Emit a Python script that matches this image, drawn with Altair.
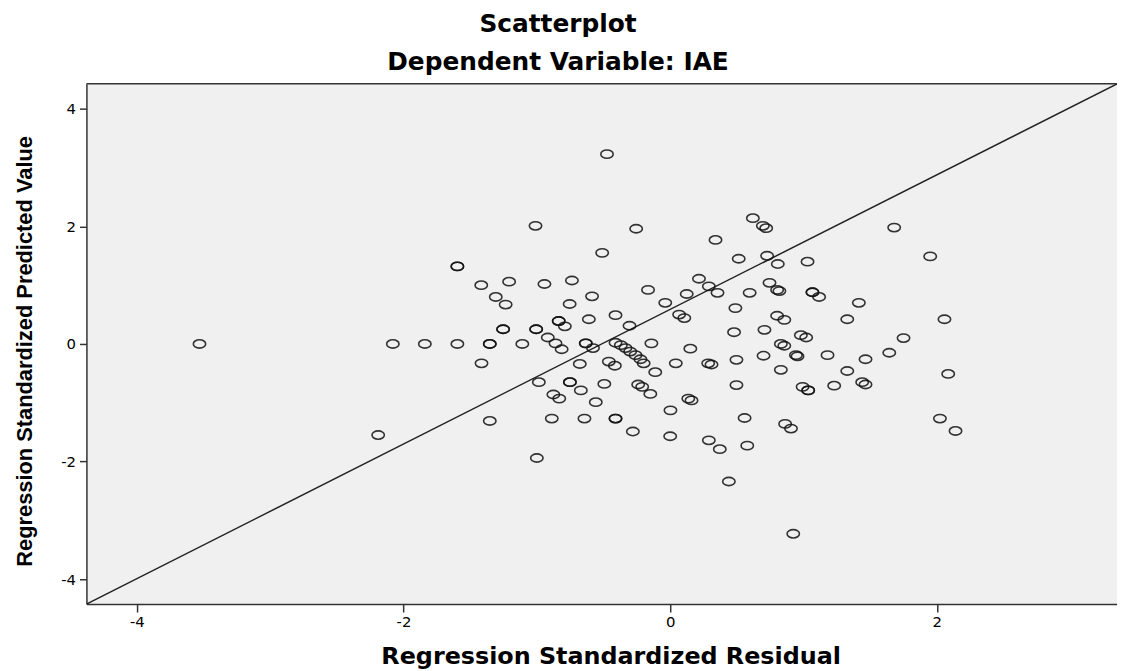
import altair as alt
import pandas as pd

# Regression Standardized Residual (x) and Regression Standardized Predicted Value (y)
resid = [
    -3.53, -2.08, -2.19,
    -0.474, -1.01, -0.255, 0.34, -0.51, 0.514, -1.596, -1.596,
    -1.417, -1.208, -0.943, -0.737, -1.308, -1.234, -0.754, -0.586, -0.166,
    0.216, 0.29, 0.355, 0.124, -0.037, 0.067, 0.106, 0.489, 0.596,
    -0.41, -0.61, -0.305, 0.479, -1.253, -1.253, -1.005, -1.005, -0.836, -0.836,
    -0.79, -0.918, -0.86, -0.814,
    -1.84, -1.596, -1.353, -1.353, -1.109, -0.633, -0.633, -0.579,
    -0.41, -0.37, -0.335, -0.30, -0.26, -0.223, -0.199,
    -0.141, -0.112, 0.151, 0.042, 0.285, 0.31, 0.497, 0.497, 0.558, 0.578,
    -1.415, -0.678, -0.46, -0.415, -0.985, -0.752, -0.752, -0.67, -0.494,
    -0.876, -0.832, -0.558, -0.24, -0.21, -0.149, 0.136, 0.16, 0.002,
    -1.353, -0.888, -0.643, -0.41, -0.41, -0.28, 0.0, 0.29, 0.372, 0.44, -1.0,
    0.62, 0.695, 0.72, 1.68, 1.95, 0.727, 0.807, 1.03, 0.745, 0.802, 0.819,
    1.067, 1.067, 1.117, 1.415, 0.802, 0.856, 1.328, 2.057, 0.707, 0.98, 1.02,
    1.75, 0.83, 0.856, 0.70, 0.943, 0.955, 1.18, 1.465, 1.643, 0.83, 1.328,
    1.44, 1.465, 2.085, 0.993, 1.035, 1.035, 1.23, 0.862, 0.906, 2.023, 2.14,
    0.923,
]
pred = [
    0.0, 0.0, -1.55,
    3.23, 2.01, 1.96, 1.77, 1.55, 1.45, 1.32, 1.32,
    1.00, 1.06, 1.02, 1.08, 0.80, 0.67, 0.68, 0.81, 0.92,
    1.11, 0.98, 0.87, 0.85, 0.70, 0.50, 0.44, 0.61, 0.87,
    0.49, 0.42, 0.31, 0.20, 0.25, 0.25, 0.25, 0.25, 0.39, 0.39,
    0.30, 0.11, 0.01, -0.09,
    0.0, 0.0, 0.0, 0.0, 0.0, 0.01, 0.01, -0.07,
    0.02, -0.02, -0.07, -0.13, -0.19, -0.26, -0.33,
    0.01, -0.48, -0.08, -0.33, -0.33, -0.35, -0.27, -0.70, -1.26, -1.73,
    -0.33, -0.34, -0.30, -0.37, -0.65, -0.65, -0.65, -0.79, -0.68,
    -0.86, -0.93, -0.99, -0.69, -0.73, -0.85, -0.93, -0.96, -1.13,
    -1.31, -1.27, -1.27, -1.27, -1.27, -1.49, -1.57, -1.64, -1.79, -2.34, -1.94,
    2.14, 2.01, 1.97, 1.98, 1.49, 1.50, 1.36, 1.40, 1.04, 0.92, 0.90,
    0.88, 0.88, 0.80, 0.70, 0.48, 0.41, 0.42, 0.42, 0.24, 0.15, 0.11,
    0.10, 0.0, -0.03, -0.20, -0.19, -0.21, -0.19, -0.26, -0.15, -0.44, -0.46,
    -0.65, -0.69, -0.51, -0.73, -0.79, -0.79, -0.71, -1.36, -1.44, -1.27, -1.48,
    -3.23,
]

# reference line (corner to corner of the plotting frame)
ref_resid = [-4.378, 3.351]
ref_pred = [-4.426, 4.426]

x_domain = [-4.378, 3.351]
y_domain = [-4.426, 4.426]
x_ticks = [-4, -2, 0, 2]
y_ticks = [-4, -2, 0, 2, 4]

W, H = 1038, 524
BASE = "DejaVu Sans"
ARIAL = "Liberation Sans"
HYPHEN_LABEL = "datum.value < 0 ? '-' + abs(datum.value) : '' + datum.value"

pts = pd.DataFrame({"resid": resid, "pred": pred})
ref = pd.DataFrame({"resid": ref_resid, "pred": ref_pred})

xs = alt.Scale(domain=x_domain, nice=False, zero=False)
ys = alt.Scale(domain=y_domain, nice=False, zero=False)

x_axis = alt.Axis(
    title="Regression Standardized Residual", values=x_ticks, grid=False,
    labelExpr=HYPHEN_LABEL,
    labelFont=BASE, labelFontSize=15, labelColor="black", labelPadding=3,
    tickSize=8, tickColor="#333333", tickWidth=1.5,
    domainColor="#333333", domainWidth=1.5,
    titleFont=BASE, titleFontSize=24, titleFontWeight="bold", titleColor="black",
    titleX=528, titleY=60, titleAlign="center", titleBaseline="alphabetic",
)
y_axis = alt.Axis(
    title="Regression Standardized Predicted Value", values=y_ticks, grid=False,
    labelExpr=HYPHEN_LABEL,
    labelFont=BASE, labelFontSize=15, labelColor="black", labelPadding=4,
    tickSize=7, tickColor="#333333", tickWidth=1.5,
    domainColor="#333333", domainWidth=1.5,
    titleFont=ARIAL, titleFontSize=22, titleFontWeight="bold", titleColor="black",
    titleAngle=270, titleX=-55, titleY=269, titleAlign="center",
    titleBaseline="alphabetic",
)

ellipse = "M-1,0A1,0.67,0,1,1,1,0A1,0.67,0,1,1,-1,0Z"

points = alt.Chart(pts).mark_point(
    shape=ellipse, filled=False, size=155, stroke="#111111",
    strokeWidth=1.6, opacity=0.85,
).encode(
    x=alt.X("resid:Q", scale=xs, axis=x_axis),
    y=alt.Y("pred:Q", scale=ys, axis=y_axis),
)

line = alt.Chart(ref).mark_line(color="#222222", strokeWidth=1.5, clip=True).encode(
    x=alt.X("resid:Q", scale=xs),
    y=alt.Y("pred:Q", scale=ys),
)

top_border = alt.Chart(pd.DataFrame({"k": [0]})).mark_rule(
    color="#333333", strokeWidth=1.5
).encode(y=alt.value(0), x=alt.value(0), x2=alt.value(W))

chart = alt.layer(line, points, top_border).properties(
    width=W, height=H,
    background="white",
    title=alt.Title(
        ["Scatterplot", "Dependent Variable: IAE"],
        font=BASE, fontSize=25, fontWeight="bold", color="black",
        lineHeight=37.5, anchor="middle", dx=-44, offset=8.5,
    ),
    autosize=alt.AutoSizeParams(type="none"),
    padding={"left": 79, "top": 74, "right": 0, "bottom": 63},
).configure_view(
    fill="#f0f0f0", stroke=None,
)

chart.save("out.html", embed_options={"renderer": "svg", "actions": False})
